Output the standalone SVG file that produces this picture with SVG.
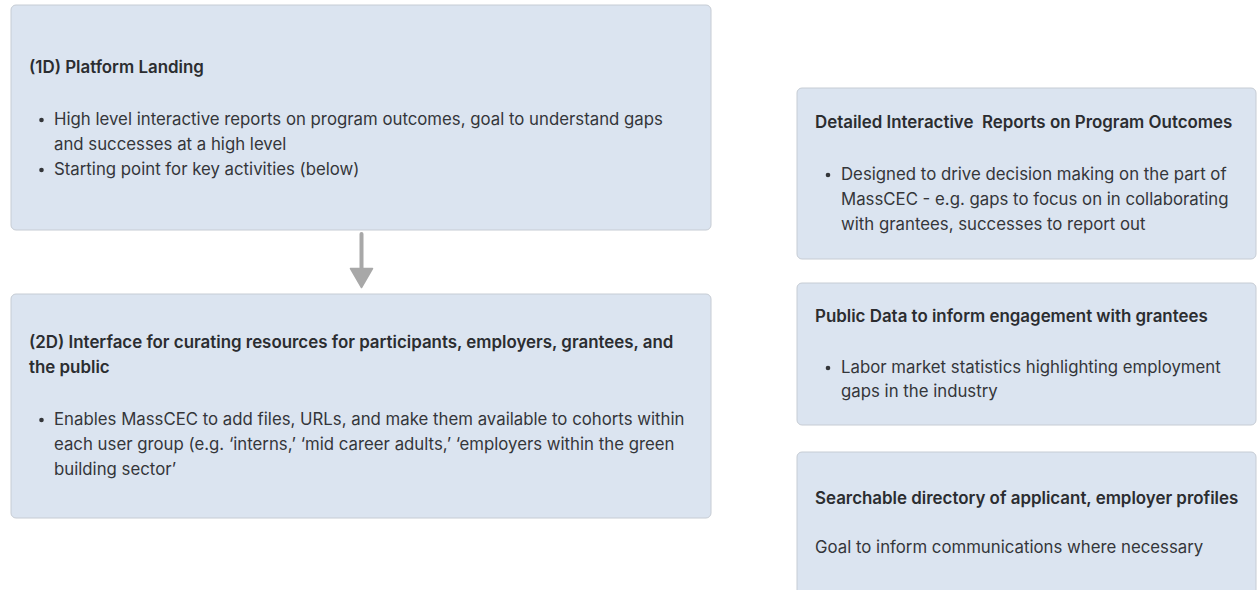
<svg xmlns="http://www.w3.org/2000/svg" width="1257" height="590" viewBox="0 0 1257 590">
<style>
.box{fill:#dbe4f0;stroke:#c6ccd4;stroke-width:1}
.t{font-family:Inter,"Noto Sans","Liberation Sans",sans-serif;font-size:16.9px;font-weight:600;fill:#2b2d30;white-space:pre}
.b{font-family:Inter,"Noto Sans","Liberation Sans",sans-serif;font-size:16.8px;font-weight:400;fill:#34363a}
.dot{fill:#34363a}
</style>
<rect width="1257" height="590" fill="#ffffff"/>
<g id="n1">
<rect class="box" x="11" y="5" width="700" height="225" rx="5"/>
<text class="t" x="29" y="73">(1D) Platform Landing</text>
<circle class="dot" cx="41.5" cy="120" r="2.3"/>
<text class="b" x="54" y="125">High level interactive reports on program outcomes, goal to understand gaps</text>
<text class="b" x="54" y="150">and successes at a high level</text>
<circle class="dot" cx="41.5" cy="170" r="2.3"/>
<text class="b" x="54" y="175">Starting point for key activities (below)</text>
</g>
<g id="n2">
<rect class="box" x="11" y="294" width="700" height="224" rx="5"/>
<text class="t" x="29" y="348">(2D) Interface for curating resources for participants, employers, grantees, and</text>
<text class="t" x="29" y="373">the public</text>
<circle class="dot" cx="41.5" cy="420" r="2.3"/>
<text class="b" x="54" y="425">Enables MassCEC to add files, URLs, and make them available to cohorts within</text>
<text class="b" x="54" y="450">each user group (e.g. ‘interns,’ ‘mid career adults,’ ‘employers within the green</text>
<text class="b" x="54" y="475">building sector’</text>
</g>
<g id="n3">
<rect class="box" x="797" y="88" width="459" height="171" rx="5"/>
<text class="t" x="815" y="128" xml:space="preserve">Detailed Interactive  Reports on Program Outcomes</text>
<circle class="dot" cx="828" cy="175" r="2.3"/>
<text class="b" x="841" y="180">Designed to drive decision making on the part of</text>
<text class="b" x="841" y="205">MassCEC - e.g. gaps to focus on in collaborating</text>
<text class="b" x="841" y="230">with grantees, successes to report out</text>
</g>
<g id="n4">
<rect class="box" x="797" y="283" width="459" height="142" rx="5"/>
<text class="t" x="815" y="322">Public Data to inform engagement with grantees</text>
<circle class="dot" cx="828" cy="368" r="2.3"/>
<text class="b" x="841" y="373">Labor market statistics highlighting employment</text>
<text class="b" x="841" y="397">gaps in the industry</text>
</g>
<g id="n5">
<rect class="box" x="797" y="452" width="459" height="160" rx="5"/>
<text class="t" x="815" y="504">Searchable directory of applicant, employer profiles</text>
<text class="b" x="815" y="553">Goal to inform communications where necessary</text>
</g>
<g id="connectors">
<line x1="361.5" y1="234" x2="361.5" y2="270" stroke="#a8a8a8" stroke-width="4" stroke-linecap="round"/>
<path d="M350.5 268.5 L372.5 268.5 L361.5 287.5 Z" fill="#a8a8a8" stroke="#a8a8a8" stroke-width="1.5" stroke-linejoin="round"/>
</g>
</svg>
